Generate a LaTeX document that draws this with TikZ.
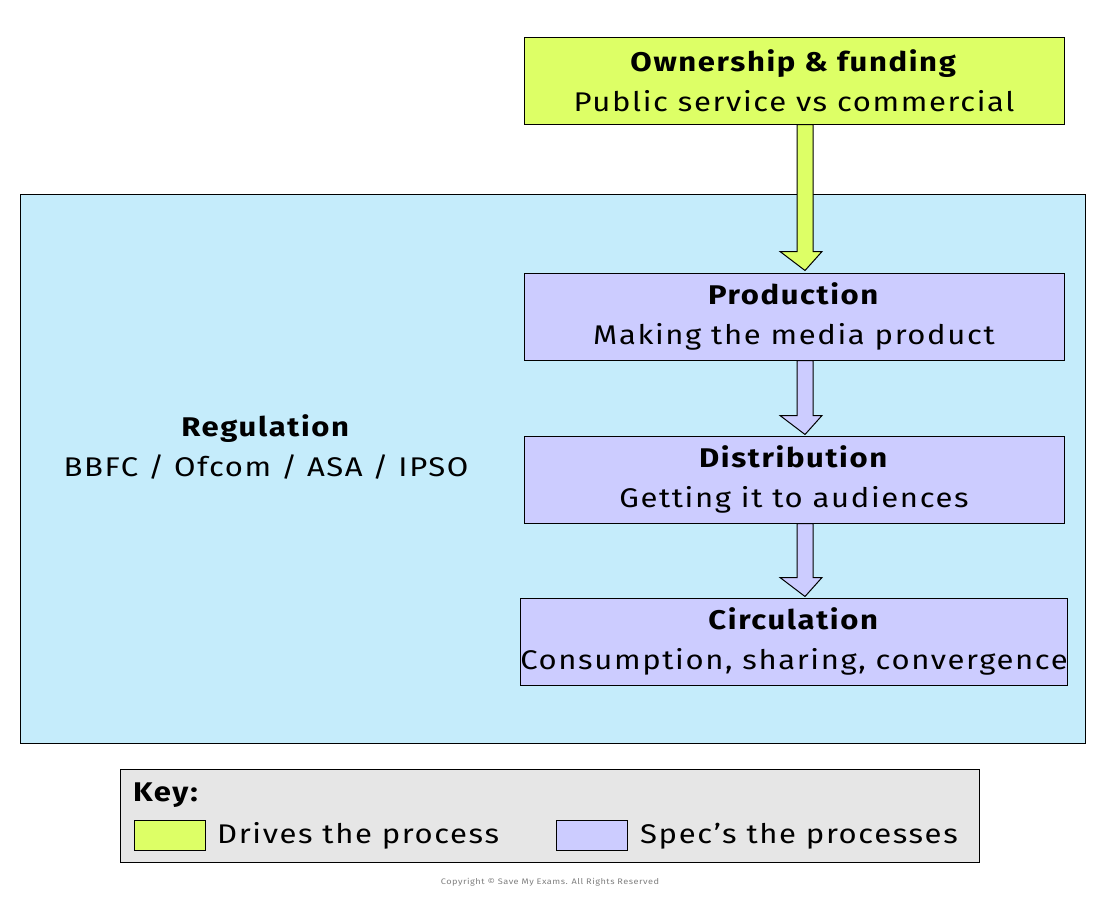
\documentclass[tikz,border=0pt]{standalone}
\usepackage{fontspec}
\setmainfont{Fira Sans}[FakeStretch=1.15,LetterSpace=6]
\usetikzlibrary{calc}
\definecolor{regblue}{HTML}{C5ECFB}
\definecolor{drivegreen}{HTML}{DDFF66}
\definecolor{specpurple}{HTML}{CCCCFF}
\definecolor{keygray}{HTML}{E6E6E6}
\tikzset{
  x=1pt,y=-1pt,
  box/.style={draw=black,line width=1pt,minimum width=540pt,minimum height=87pt,align=center,inner sep=0pt,font=\fontsize{27}{40}\selectfont},
  swatch/.style={draw=black,line width=1pt,minimum width=71pt,minimum height=30pt,inner sep=0pt},
  lbl/.style={font=\fontsize{27}{32}\selectfont,anchor=west,inner sep=0pt}
}
\newcommand{\blockarrow}[3]{% from, to, color
  \fill[#3,draw=black,line width=1pt] ($(#1)+(-8,0)$) -- ($(#2)+(-8,-19)$) -- ($(#2)+(-25,-19)$) -- (#2) -- ($(#2)+(17,-19)$) -- ($(#2)+(8,-19)$) -- ($(#1)+(8,0)$) -- cycle;}
\begin{document}
\begin{tikzpicture}
\useasboundingbox[fill=white] (0,0) rectangle (1100,897);
\node[draw=black,line width=1pt,fill=regblue,minimum width=1065pt,minimum height=549pt,inner sep=0pt] (reg) at (552.5,468.5) {};
\node[align=center,font=\fontsize{27}{40}\selectfont] (regt) at (266,447) {\textbf{Regulation}\\BBFC / Ofcom / ASA / IPSO};
\node[box,fill=drivegreen] (own) at (794,80.5) {\textbf{Ownership \& funding}\\Public service vs commercial};
\node[box,fill=specpurple] (prod) at (794,316.5) {\textbf{Production}\\Making the media product};
\node[box,fill=specpurple] (dist) at (794,479.5) {\textbf{Distribution}\\Getting it to audiences};
\node[box,fill=specpurple] (circ) at (794,641.5) {\textbf{Circulation}\\Consumption, sharing, convergence};
\coordinate (a1s) at ($(own.south)+(11,0)$); \coordinate (a1e) at ($(prod.north)+(11,-2)$);
\coordinate (a2s) at ($(prod.south)+(11,0)$); \coordinate (a2e) at ($(dist.north)+(11,-1)$);
\coordinate (a3s) at ($(dist.south)+(11,0)$); \coordinate (a3e) at ($(circ.north)+(11,-1)$);
\blockarrow{a1s}{a1e}{drivegreen}
\blockarrow{a2s}{a2e}{specpurple}
\blockarrow{a3s}{a3e}{specpurple}
\node[draw=black,line width=1pt,fill=keygray,minimum width=859pt,minimum height=93pt,inner sep=0pt] (key) at (549.5,815.5) {};
\node[lbl] (keyt) at (133,795) {\textbf{Key:}};
\node[swatch,fill=drivegreen] (sw1) at (169.5,835) {};
\node[lbl] (t1) at (217,836) {Drives the process};
\node[swatch,fill=specpurple] (sw2) at (592,835) {};
\node[lbl] (t2) at (640,836) {Spec’s the processes};
\node[text=gray,font=\fontsize{8}{10}\selectfont] (copy) at (550,882) {Copyright © Save My Exams. All Rights Reserved};
\end{tikzpicture}
\end{document}
